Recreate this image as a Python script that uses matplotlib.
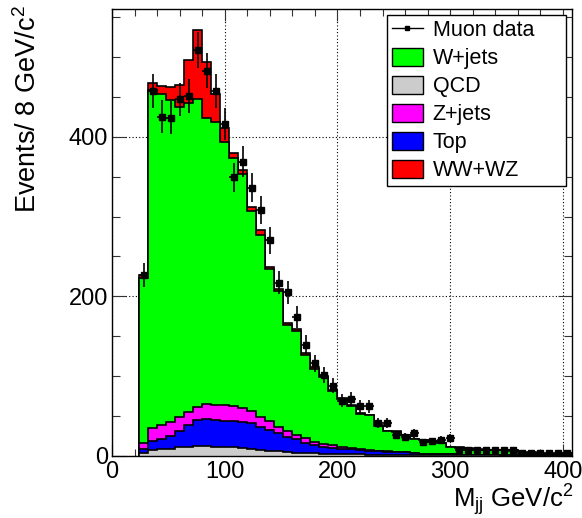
import numpy as np
import matplotlib
matplotlib.use("Agg")
import matplotlib.pyplot as plt
from matplotlib.lines import Line2D
from matplotlib.patches import Patch

plt.rcParams['font.family'] = ['Liberation Sans', 'DejaVu Sans']
plt.rcParams['mathtext.fontset'] = 'custom'
plt.rcParams['mathtext.rm'] = 'Liberation Sans'
plt.rcParams['mathtext.it'] = 'Liberation Sans:italic'

# =========================
# DATA (events / 8 GeV, bins 24 .. 408)
# =========================

bin_edges = [24 + 8 * i for i in range(49)]

qcd = [4, 7, 8, 9, 10.5, 11.5, 12, 12, 11.5, 11, 10.5, 9.5, 8.5, 7.5, 6.5, 5.5,
       5, 4, 3.5, 3, 2.5, 2.2, 2, 1.8, 1.6, 1.4, 1.2, 1.1, 1.0, 0.9, 0.8, 0.7,
       0.6, 0.5, 0.5, 0.4, 0.4, 0.3, 0.3, 0.3, 0.2, 0.2, 0.2, 0.2, 0.1, 0.1, 0.1, 0.1]

top = [4.4, 11.4, 12.5, 16, 20, 26.5, 32.4, 33.6, 33.3, 33, 33.5, 32.3, 32.1, 28.9, 25.7, 23,
       19, 16.5, 12.5, 10.4, 8.8, 7.6, 6.8, 6.2, 5.4, 5.0, 4.4, 4.1, 3.6, 3.3, 2.2, 1.7,
       1.4, 1.3, 1.1, 1.0, 0.8, 0.8, 0.7, 0.6, 0.6, 0.5, 0.4, 0.3, 0.4, 0.3, 0.3, 0.2]

zjets = [8.1, 16.1, 17.5, 17, 17.5, 17, 17.1, 19.4, 19.2, 19, 18.5, 18.2, 14.9, 12.1, 10.8, 7.5,
         6.5, 5, 5.8, 3.6, 3.7, 3.0, 2.5, 1.6, 1.4, 0.8, 0.6, 0.5, 0.4, 0.4, 0.3, 0.3,
         0.2, 0.2, 0.2, 0.1, 0.1, 0.1, 0.1, 0.1, 0.1, 0.1, 0.1, 0.1, 0.1, 0.1, 0.1, 0.1]

wjets = [206.5, 424.5, 416, 404, 390, 387, 386.5, 358.5, 355, 331, 310.5, 293.5, 252, 228.5, 191, 171,
         133.5, 131.5, 104.7, 92, 83.5, 68.2, 60.2, 52.9, 44.1, 43.3, 31.3, 24.8, 25.0, 20.9, 17.2, 16.8,
         15.3, 14.0, 9.2, 8.5, 7.7, 6.3, 6.4, 6.0, 6.1, 5.7, 3.3, 3.4, 1.9, 2.0, 1.5, 2.6]

diboson = [4, 8, 10, 16, 27, 54, 86, 70.5, 35, 17, 7, 5.5, 4.5, 6, 2.5, 2,
           2, 2.5, 2, 2, 1.5, 1.5, 1, 1, 1, 1, 1, 1, 0.8, 0.7, 0.7, 0.5,
           0.5, 0.4, 0.4, 0.3, 0.3, 0.3, 0.2, 0.2, 0.2, 0.2, 0.2, 0.2, 0.2, 0.2, 0.2, 0.2]

muon_data = [227, 458, 425, 424, 447, 451, 509, 483, 458, 416, 349, 369, 336, 308, 270, 217,
             205, 174, 139, 116, 101, 88, 69, 71, 62, 62, 41, 41, 26, 24, 28, 17,
             18, 20, 22, 7, 7, 7, 7, 7, 7, 7, 4, 4, 3, 4, 4, 3]

# stack order, bottom to top
stack_names = ['QCD', 'Top', 'Z+jets', 'W+jets', 'WW+WZ']
stack_values = [qcd, top, zjets, wjets, diboson]
stack_colors = ['#cccccc', '#0000ff', '#ff00ff', '#00ff00', '#ff0000']

# =========================
# FIGURE
# =========================

fig = plt.figure(figsize=(5.82, 5.18), dpi=100)
ax = fig.add_axes([112 / 582, 1 - 455.7 / 518, 460 / 582, 446.4 / 518])

edges = np.array(bin_edges)
cum = np.cumsum(np.array(stack_values), axis=0)

# draw from the top of the stack downwards, each one filled from zero
for i in range(len(stack_names) - 1, -1, -1):
    ax.stairs(cum[i], edges, baseline=0, fill=True,
              facecolor=stack_colors[i], edgecolor='black',
              linewidth=1.2, zorder=2)

data = np.array(muon_data, dtype=float)
centers = 0.5 * (edges[:-1] + edges[1:])
ax.errorbar(centers, data, xerr=4, yerr=np.sqrt(data),
            fmt='s', color='black', ms=5, elinewidth=1.2,
            capsize=0, zorder=4)

# =========================
# AXES
# =========================

ax.set_xlim(0, 408)
ax.set_ylim(0, 560)

ax.set_xticks([0, 100, 200, 300, 400])
ax.set_xticks(range(0, 408, 20), minor=True)
ax.set_yticks([0, 200, 400])
ax.set_yticks(range(0, 560, 50), minor=True)

ax.tick_params(which='both', direction='in', top=True, right=True,
               labelsize=17, width=0.8, color='#333333')
ax.tick_params(axis='x', which='major', length=8.5, pad=4)
ax.tick_params(axis='x', which='minor', length=5)
ax.tick_params(axis='y', which='major', length=10, pad=3)
ax.tick_params(axis='y', which='minor', length=5.5)

ax.grid(True, which='major', color='black', linestyle=(0, (1, 2)), linewidth=0.8)
ax.set_axisbelow(True)

for s in ax.spines.values():
    s.set_linewidth(1)
    s.set_zorder(5)

fig.text(28 / 582, 0.99, r'Events/ 8 GeV/c$^{2}$', rotation=90,
         ha='center', va='top', fontsize=19.5)
fig.text(573 / 582, 1 - 507 / 518, r'M$_{\mathrm{jj}}$ GeV/c$^{2}$',
         ha='right', va='baseline', fontsize=18.5)

# =========================
# LEGEND
# =========================

handles = [Line2D([], [], color='black', marker='s', ms=3.5, lw=1)]
labels = ['Muon data']
for name in ['W+jets', 'QCD', 'Z+jets', 'Top', 'WW+WZ']:
    k = stack_names.index(name)
    handles.append(Patch(facecolor=stack_colors[k], edgecolor='black', linewidth=1))
    labels.append(name)

# legend box: x 387..566 px, top at 15 px
lx0 = (387 - 112) / 460
lx1 = (566 - 112) / 460
ly1 = (455.7 - 15) / 446.4
leg = ax.legend(handles, labels, loc='upper left', mode='expand',
                bbox_to_anchor=(lx0, ly1 - 0.4, lx1 - lx0, 0.4), borderaxespad=0,
                fontsize=15.5, handlelength=1.45, handleheight=0.9,
                handletextpad=0.45, labelspacing=0.31, borderpad=0.22,
                fancybox=False, framealpha=1, edgecolor='black')
leg.get_frame().set_linewidth(1)
leg.set_zorder(6)

fig.savefig("out.png", dpi=100)
